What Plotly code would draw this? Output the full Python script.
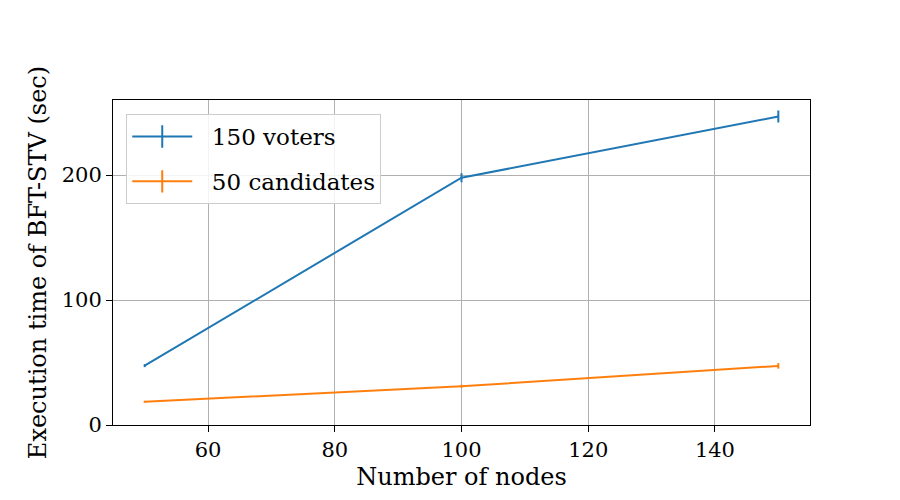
import plotly.graph_objects as go

nodes = [50, 100, 150]
voters_time = [47.5, 197.8, 246.8]
voters_err = [1.2, 3.6, 4.8]
cand_time = [18.6, 31.0, 47.3]
cand_err = [0.8, 1.2, 2.2]
series_names = ["150 voters", "50 candidates"]
colors = ["#1f77b4", "#ff7f0e"]
x_ticks = [60, 80, 100, 120, 140]
y_ticks = [0, 100, 200]

FONT = "DejaVu Serif"
PAD = "\u00a0\u00a0"

fig = go.Figure()
for name, ys, es, c in zip(series_names, [voters_time, cand_time], [voters_err, cand_err], colors):
    fig.add_trace(go.Scatter(
        x=nodes, y=ys, mode="lines", line=dict(color=c, width=2),
        error_y=dict(type="data", array=es, visible=True, color=c, thickness=2, width=0),
        showlegend=False, name=name))
    fig.add_trace(go.Scatter(
        x=[None], y=[None], mode="lines+markers", name=PAD + name, legendgroup=name,
        line=dict(color=c, width=2),
        marker=dict(symbol="line-ns", size=22, line=dict(color=c, width=2), color=c)))

fig.update_layout(
    width=900, height=500,
    margin=dict(l=105, r=98, t=92, b=83),
    paper_bgcolor="white", plot_bgcolor="white",
    font=dict(family=FONT, size=20, color="black"),
    legend=dict(x=0.019, y=0.957, xanchor="left", yanchor="top",
                bgcolor="rgba(255,255,255,0.85)", bordercolor="#cccccc", borderwidth=1,
                font=dict(size=23, family=FONT), tracegroupgap=12, itemwidth=60),
)
fig.update_xaxes(range=[45, 155], tickvals=x_ticks, showgrid=True, gridcolor="#b0b0b0", gridwidth=1,
                 showline=True, linecolor="black", linewidth=1, mirror=True,
                 ticks="outside", ticklen=6, tickcolor="black", zeroline=False,
                 title=dict(text="Number of nodes", font=dict(size=24, family=FONT), standoff=6),
                 tickfont=dict(size=21, family=FONT))
fig.update_yaxes(range=[0, 260], tickvals=y_ticks, showgrid=True, gridcolor="#b0b0b0", gridwidth=1,
                 showline=True, linecolor="black", linewidth=1, mirror=True,
                 ticks="outside", ticklen=6, tickcolor="black", zeroline=False,
                 title=dict(text="Execution time of BFT-STV (sec)", font=dict(size=24, family=FONT), standoff=8),
                 tickfont=dict(size=21, family=FONT))

fig.write_html("out.html")
